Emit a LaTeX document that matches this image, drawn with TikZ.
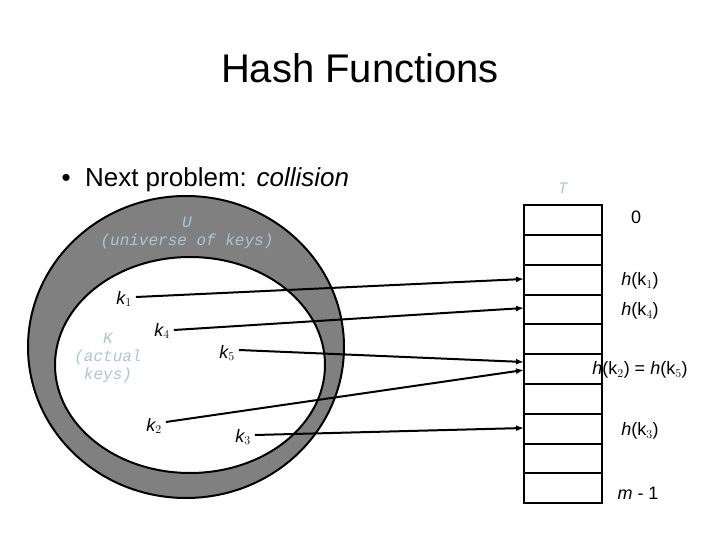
\documentclass[tikz,border=0pt]{standalone}
\usepackage{fontspec}
\setmainfont{Liberation Sans}
\setmonofont{Liberation Mono}
\usetikzlibrary{arrows.meta}
\definecolor{ringgray}{HTML}{808080}
\definecolor{lblue}{HTML}{A8C8D4}
\begin{document}
\begin{tikzpicture}[x=1pt,y=-1pt,
  lab/.style={font=\fontsize{18}{20}\selectfont, inner sep=0pt},
  klab/.style={font=\fontsize{18}{20}\selectfont\itshape, inner sep=0pt},
  cour/.style={font=\fontsize{16}{18}\selectfont\ttfamily\itshape, text=lblue, inner sep=0pt, align=center},
  arr/.style={line width=2pt, -{Latex[length=8pt,width=6pt]}},
  cell/.style={draw, line width=2pt, minimum width=78pt, minimum height=29.8pt, inner sep=0pt, outer sep=0pt}]
\useasboundingbox (0,0) rectangle (720,540);
\fill[white] (0,0) rectangle (720,540);
\node[font=\fontsize{40}{44}\selectfont] (title) at (360,68) {Hash Functions};
\node[font=\fontsize{26}{30}\selectfont, anchor=west] (bullet) at (58,180) {\textbullet\ \ Next problem: \textit{collision}};
% ellipses
\draw[line width=2pt, fill=ringgray] (186,347) ellipse [x radius=158, y radius=151];
\draw[line width=2pt, fill=white] (190,365) ellipse [x radius=135, y radius=108];
\node[cour] (U) at (187,233) {U\\(universe of keys)};
\node[cour] (K) at (108,358) {K\\(actual\\keys)};
% table
\foreach \i in {0,...,9} {
  \node[cell] (c\i) at (563,{220+\i*29.8}) {};
}
\node[cour] (T) at (563,188) {T};
\node[lab] (l0) at (636,217) {0};
\node[lab] (l1) at (640,281) {\textit{h}(k$_1$)};
\node[lab] (l4) at (640,311) {\textit{h}(k$_4$)};
\node[lab] (l25) at (640,370) {\textit{h}(k$_2$) = \textit{h}(k$_5$)};
\node[lab] (l3) at (640,431) {\textit{h}(k$_3$)};
\node[lab] (lm) at (638,493) {\textit{m} - 1};
% keys
\node[klab] (k1) at (124,299) {k$_1$};
\node[klab] (k4) at (162,331) {k$_4$};
\node[klab] (k5) at (227,353) {k$_5$};
\node[klab] (k2) at (154,426) {k$_2$};
\node[klab] (k3) at (243,437) {k$_3$};
\coordinate (t1) at (524,279);
\coordinate (t4) at (524,308);
\coordinate (t5) at (524,362);
\coordinate (t2) at (524,370);
\coordinate (t3) at (524,428);
\draw[arr] (k1.east) ++(4,-2) -- (t1);
\draw[arr] (k4.east) ++(4,-1) -- (t4);
\draw[arr] (k5.east) ++(4,-3) -- (t5);
\draw[arr] (k2.east) ++(4,-4) -- (t2);
\draw[arr] (k3.east) ++(4,-2) -- (t3);
\end{tikzpicture}
\end{document}
